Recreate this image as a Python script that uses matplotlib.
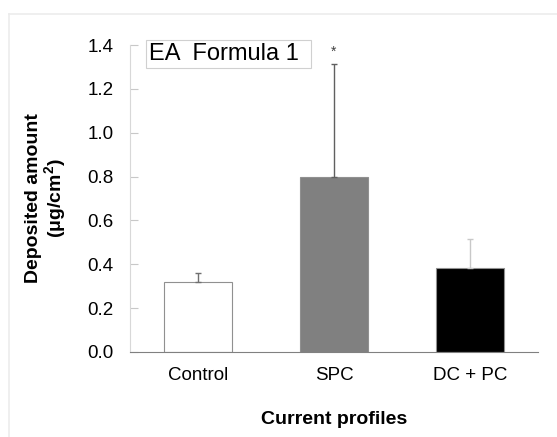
import matplotlib
matplotlib.use("Agg")
import matplotlib.pyplot as plt
from matplotlib.lines import Line2D
from matplotlib.patches import Rectangle

categories = ["Control", "SPC", "DC + PC"]
values = [0.32, 0.80, 0.383]
errors = [0.04, 0.513, 0.132]
bar_colors = ["#ffffff", "#808080", "#000000"]
err_colors = ["#707070", "#606060", "#c8c8c8"]
yticks = [0.0, 0.2, 0.4, 0.6, 0.8, 1.0, 1.2, 1.4]

plt.rcParams['font.family'] = ['Liberation Sans', 'DejaVu Sans']

W, H = 557, 437
fig = plt.figure(figsize=(W / 100, H / 100), dpi=100)
ax = fig.add_axes([130 / W, 1 - 352 / H, (538 - 130) / W, (352 - 45) / H])

x = list(range(len(categories)))
ax.bar(x, values, width=0.5, color=bar_colors, edgecolor="#909090", linewidth=0.8, zorder=2)
for xi, v, e, c in zip(x, values, errors, err_colors):
    ax.errorbar([xi], [v], yerr=[[0], [e]], fmt="none", ecolor=c, elinewidth=1.0,
                capsize=2, capthick=1.0, zorder=3)

ax.set_xlim(-0.5, 2.5)
ax.set_ylim(0, 1.4)
ax.set_yticks(yticks)
ax.set_yticklabels([f"{t:.1f}" for t in yticks], fontsize=13.5)
ax.set_xticks(x)
ax.set_xticklabels(categories, fontsize=13.5)
ax.tick_params(axis="x", length=0, pad=11)
ax.tick_params(axis="y", direction="in", length=6, color="#c8c8c8", width=0.8, pad=12)

for s in ["top", "right"]:
    ax.spines[s].set_visible(False)
ax.spines["left"].set_color("#d8d8d8")
ax.spines["bottom"].set_color("#808080")
ax.spines["left"].set_linewidth(0.8)
ax.spines["bottom"].set_linewidth(0.8)

ax.set_ylabel("Deposited amount\n(μg/cm$^\\mathregular{2}$)", fontsize=14, fontweight="bold",
              linespacing=1.0)
ax.yaxis.set_label_coords(-0.15, 0.5)
ax.set_xlabel("Current profiles", fontsize=14, fontweight="bold", labelpad=19)

# label box
bx0, bx1, by0, by1 = 146, 311, 40, 68
fig.add_artist(Rectangle((bx0 / W, 1 - by1 / H), (bx1 - bx0) / W, (by1 - by0) / H,
                         transform=fig.transFigure, facecolor="white", edgecolor="#d0d0d0",
                         linewidth=0.8, zorder=5))
fig.text(149 / W, 1 - 54.5 / H, "EA  Formula 1", fontsize=17, ha="left", va="center", zorder=6)
ax.text(1, 1.37, "*", fontsize=10, ha="center", va="center", color="#404040")

fig.add_artist(Line2D([9 / W, 1], [1 - 14 / H, 1 - 14 / H], color="#ececec", linewidth=1.2,
                      transform=fig.transFigure))
fig.add_artist(Line2D([9 / W, 9 / W], [0, 1 - 14 / H], color="#ececec", linewidth=1.2,
                      transform=fig.transFigure))

fig.savefig("out.png", dpi=100)
